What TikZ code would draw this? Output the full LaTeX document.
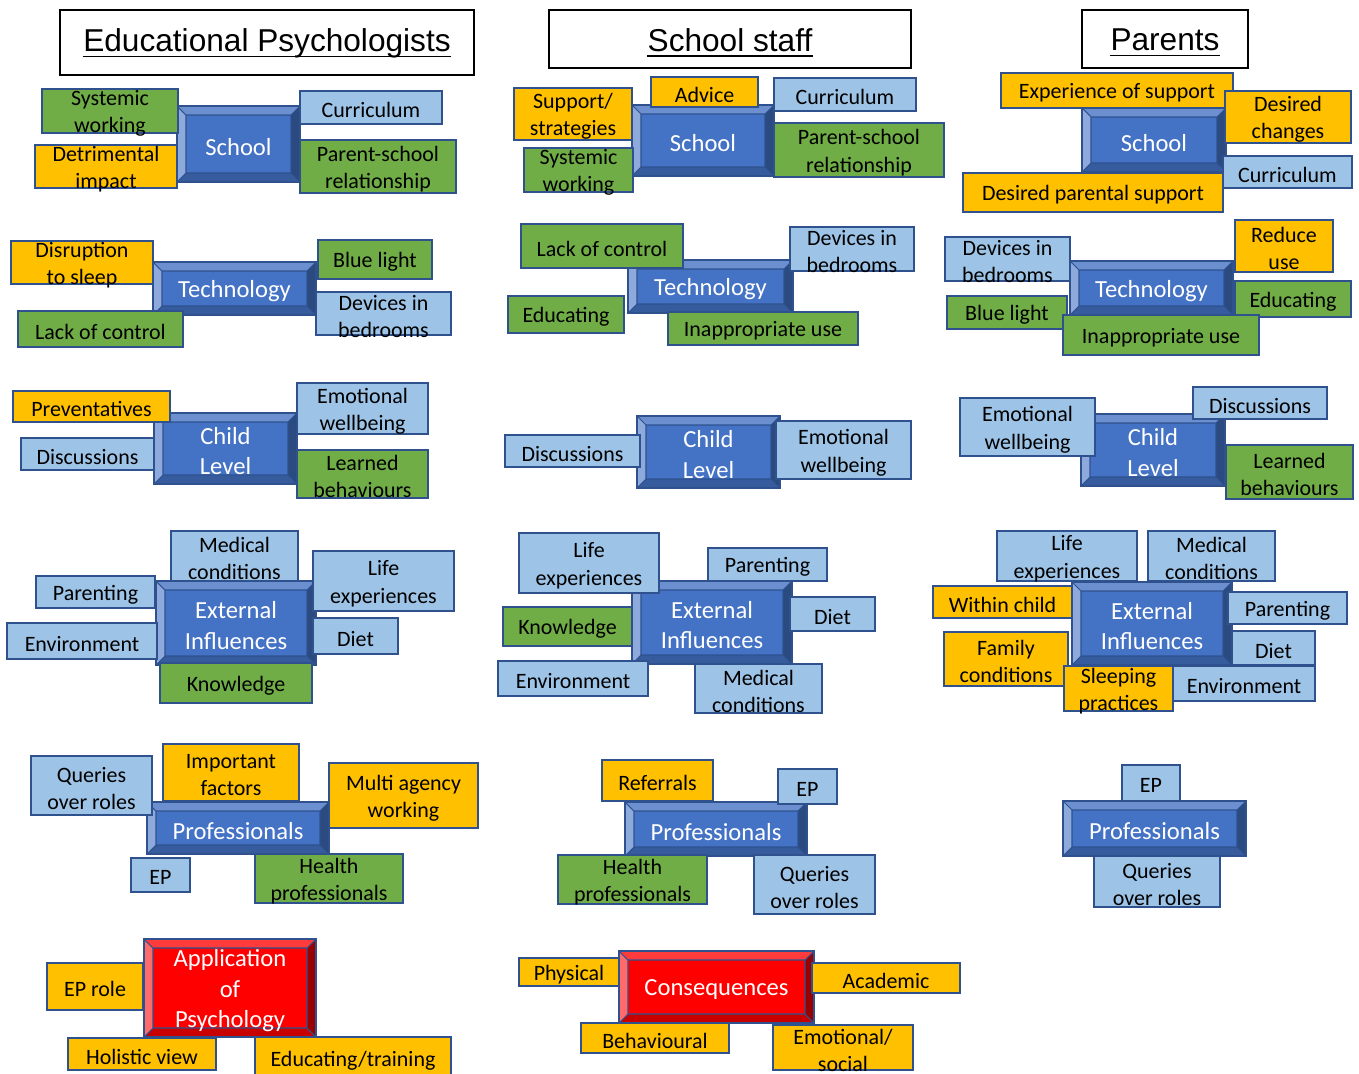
\documentclass[tikz,border=0pt]{standalone}
\usepackage{fontspec}
\setmainfont{Carlito}
\newfontfamily\headfont{Liberation Sans}
\usepackage{tikz}

\definecolor{paleblue}{HTML}{9DC3E6}
\definecolor{leafgreen}{HTML}{70AD47}
\definecolor{amber}{HTML}{FFC000}
\definecolor{edgeblue}{HTML}{2F528F}
\definecolor{blueface}{HTML}{4472C4}
\definecolor{bluetop}{HTML}{6C8FD0}
\definecolor{blueleft}{HTML}{8EA9DB}
\definecolor{blueright}{HTML}{2B4A80}
\definecolor{bluebottom}{HTML}{365C9E}
\definecolor{redface}{HTML}{FF0000}
\definecolor{redtop}{HTML}{FF3B3B}
\definecolor{redleft}{HTML}{FF6B6B}
\definecolor{redright}{HTML}{990000}
\definecolor{redbottom}{HTML}{C80000}

\tikzset{
  leafline/.style={draw=edgeblue, line width=0.8pt},
  hubline/.style={draw=edgeblue, line width=0.6pt},
  titleline/.style={draw=black, line width=0.6pt},
  titlerule/.style={draw=black, line width=1.1pt},
  leaftext/.style={font=\fontsize{12.5}{15.5}\selectfont, align=center, inner sep=0pt, yshift=-1.5pt},
  hubtext/.style={font=\fontsize{14}{17.5}\selectfont, text=white, align=center, inner sep=0pt, yshift=-1.5pt},
  titletext/.style={font=\headfont\fontsize{18}{22}\selectfont, inner sep=0pt, yshift=-0.5pt}
}

\def\leaf[#1](#2)(#3,#4)(#5,#6)#7{%
  \draw[leafline, fill=#1] (#3,#4) rectangle (#5,#6);
  \node[leaftext] (#2) at ({(#3+#5)/2},{(#4+#6)/2}) {#7};}

\def\hub[#1](#2)(#3,#4)(#5,#6)#7{%
  \fill[#1top] (#3,#4) -- (#5,#4) -- ({#5-9},{#4+9}) -- ({#3+9},{#4+9}) -- cycle;
  \fill[#1left] (#3,#4) -- ({#3+9},{#4+9}) -- ({#3+9},{#6-9}) -- (#3,#6) -- cycle;
  \fill[#1right] (#5,#4) -- (#5,#6) -- ({#5-9},{#6-9}) -- ({#5-9},{#4+9}) -- cycle;
  \fill[#1bottom] (#3,#6) -- (#5,#6) -- ({#5-9},{#6-9}) -- ({#3+9},{#6-9}) -- cycle;
  \fill[#1face] ({#3+9},{#4+9}) rectangle ({#5-9},{#6-9});
  \draw[hubline] ({#3+9},{#4+9}) rectangle ({#5-9},{#6-9})
    (#3,#4) -- ({#3+9},{#4+9}) (#5,#4) -- ({#5-9},{#4+9})
    (#3,#6) -- ({#3+9},{#6-9}) (#5,#6) -- ({#5-9},{#6-9});
  \draw[leafline] (#3,#4) rectangle (#5,#6);
  \node[hubtext] (#2) at ({(#3+#5)/2},{(#4+#6)/2}) {#7};}

\def\heading(#1)(#2,#3)(#4,#5)#6{%
  \draw[titleline] (#2,#3) rectangle (#4,#5);
  \node[titletext] (#1) at ({(#2+#4)/2},{(#3+#5)/2}) {#6};
  \draw[titlerule] ([yshift=-2.8pt]#1.base west) -- ([yshift=-2.8pt]#1.base east);}

\begin{document}
\begin{tikzpicture}[x=0.02cm, y=-0.02cm]
			\useasboundingbox (0,0) rectangle (1359,1073);
			%%%%% EDUCATIONAL PSYCHOLOGISTS %%%%%
			\heading(epTitle)(60,10)(474,75){Educational Psychologists}
			
			\hub[blue](epSchool)(177,106)(300,182){School}
			\leaf[leafgreen](epSystemic)(42,89)(178,133){Systemic\\working}
			\leaf[amber](epDetriment)(35,145)(177,188){Detrimental\\impact}
			\leaf[paleblue](epCurric)(300,91)(442,124){Curriculum}
			\leaf[leafgreen](epRelation)(300,140)(456,193){Parent-school\\relationship}
			
			\hub[blue](epTech)(153,262)(316,315){Technology}
			\leaf[amber](epSleep)(11,241)(153,284){Disruption\\to sleep}
			\leaf[leafgreen](epControl)(18,311)(183,347){Lack of control}
			\leaf[leafgreen](epBlue)(318,240)(432,279){Blue light}
			\leaf[paleblue](epDevices)(316,292)(451,335){Devices in\\bedrooms}
			
			\hub[blue](epChild)(154,413)(297,484){Child\\Level}
			\leaf[amber](epPrevent)(13,391)(170,422){Preventatives}
			\leaf[paleblue](epDiscuss)(21,438)(154,470){Discussions}
			\leaf[paleblue](epEmotion)(297,383)(428,434){Emotional\\wellbeing}
			\leaf[leafgreen](epLearned)(297,450)(428,498){Learned\\behaviours}
			
			\hub[blue](epExternal)(156,581)(316,665){External\\Influences}
			\leaf[paleblue](epMedical)(171,531)(298,581){Medical\\conditions}
			\leaf[paleblue](epParenting)(36,576)(155,608){Parenting}
			\leaf[paleblue](epEnviron)(7,623)(157,659){Environment}
			\leaf[paleblue](epLife)(313,551)(454,611){Life\\experiences}
			\leaf[paleblue](epDiet)(313,618)(398,654){Diet}
			\leaf[leafgreen](epKnow)(160,663)(312,703){Knowledge}
			
			\hub[blue](epProf)(147,802)(329,854){Professionals}
			\leaf[paleblue](epQueries)(31,756)(152,815){Queries\\over roles}
			\leaf[amber](epFactors)(163,744)(299,801){Important\\factors}
			\leaf[amber](epAgency)(329,763)(478,828){Multi agency\\working}
			\leaf[paleblue](epEP)(131,858)(190,892){EP}
			\leaf[leafgreen](epHealth)(255,854)(403,903){Health\\professionals}
			
			\hub[red](epApply)(144,939)(316,1037){Application\\of\\Psychology}
			\leaf[amber](epRole)(47,963)(143,1010){EP role}
			\leaf[amber](epHolistic)(68,1038)(216,1070){Holistic view}
			\leaf[amber](epTraining)(255,1037)(451,1080){Educating/training}
			
			%%%%% SCHOOL STAFF %%%%%
			\heading(staffTitle)(549,10)(911,68){School staff}
			
			\hub[blue](stSchool)(632,105)(774,176){School}
			\leaf[amber](stSupport)(514,88)(632,140){Support/\\strategies}
			\leaf[amber](stAdvice)(651,77)(758,107){Advice}
			\leaf[paleblue](stCurric)(774,78)(916,111){Curriculum}
			\leaf[leafgreen](stSystemic)(524,148)(633,192){Systemic\\working}
			\leaf[leafgreen](stRelation)(774,123)(944,177){Parent-school\\relationship}
			
			\hub[blue](stTech)(628,260)(793,313){Technology}
			\leaf[leafgreen](stControl)(521,224)(683,268){Lack of control}
			\leaf[paleblue](stDevices)(790,227)(914,271){Devices in\\bedrooms}
			\leaf[leafgreen](stEducate)(508,296)(624,333){Educating}
			\leaf[leafgreen](stMisuse)(668,312)(858,345){Inappropriate use}
			
			\hub[blue](stChild)(637,416)(780,488){Child\\Level}
			\leaf[paleblue](stDiscuss)(505,435)(640,467){Discussions}
			\leaf[paleblue](stEmotion)(776,421)(911,479){Emotional\\wellbeing}
			
			\hub[blue](stExternal)(632,581)(792,664){External\\Influences}
			\leaf[paleblue](stLife)(519,533)(659,593){Life\\experiences}
			\leaf[paleblue](stParenting)(708,548)(827,581){Parenting}
			\leaf[leafgreen](stKnow)(503,607)(632,646){Knowledge}
			\leaf[paleblue](stDiet)(790,597)(875,631){Diet}
			\leaf[paleblue](stEnviron)(498,661)(648,696){Environment}
			\leaf[paleblue](stMedical)(695,664)(822,713){Medical\\conditions}
			
			\hub[blue](stProf)(625,802)(807,856){Professionals}
			\leaf[amber](stReferral)(602,760)(713,801){Referrals}
			\leaf[paleblue](stEP)(778,769)(837,804){EP}
			\leaf[leafgreen](stHealth)(558,855)(707,904){Health\\professionals}
			\leaf[paleblue](stQueries)(754,855)(875,914){Queries\\over roles}
			
			\hub[red](stConseq)(619,951)(814,1023){Consequences}
			\leaf[amber](stPhysical)(519,958)(619,986){Physical}
			\leaf[amber](stAcademic)(812,963)(960,993){Academic}
			\leaf[amber](stBehaviour)(581,1023)(729,1053){Behavioural}
			\leaf[amber](stSocial)(773,1025)(913,1070){Emotional/\\social}
			
			%%%%% PARENTS %%%%%
			\heading(parTitle)(1082,10)(1248,68){Parents}
			
			\hub[blue](parSchool)(1082,108)(1226,172){School}
			\leaf[amber](parExperience)(1001,73)(1233,108){Experience of support}
			\leaf[amber](parChanges)(1225,91)(1351,143){Desired\\changes}
			\leaf[paleblue](parCurric)(1223,156)(1352,188){Curriculum}
			\leaf[amber](parSupport)(963,173)(1223,212){Desired parental support}
			
			\hub[blue](parTech)(1070,261)(1233,315){Technology}
			\leaf[amber](parReduce)(1235,220)(1333,272){Reduce\\use}
			\leaf[paleblue](parDevices)(945,237)(1070,281){Devices in\\bedrooms}
			\leaf[leafgreen](parEducate)(1235,281)(1351,317){Educating}
			\leaf[leafgreen](parBlue)(947,296)(1067,329){Blue light}
			\leaf[leafgreen](parMisuse)(1063,315)(1259,355){Inappropriate use}
			
			\hub[blue](parChild)(1081,414)(1225,486){Child\\Level}
			\leaf[paleblue](parEmotion)(960,398)(1095,456){Emotional\\wellbeing}
			\leaf[paleblue](parDiscuss)(1193,387)(1327,419){Discussions}
			\leaf[leafgreen](parLearned)(1226,445)(1353,499){Learned\\behaviours}
			
			\hub[blue](parExternal)(1072,582)(1232,665){External\\Influences}
			\leaf[paleblue](parLife)(997,531)(1137,581){Life\\experiences}
			\leaf[paleblue](parMedical)(1148,531)(1275,581){Medical\\conditions}
			\leaf[amber](parWithin)(933,586)(1072,618){Within child}
			\leaf[paleblue](parParenting)(1228,592)(1347,624){Parenting}
			\leaf[amber](parFamily)(944,632)(1068,686){Family\\conditions}
			\leaf[paleblue](parDiet)(1232,631)(1315,665){Diet}
			\leaf[paleblue](parEnviron)(1173,666)(1315,701){Environment}
			\leaf[amber](parSleeping)(1064,666)(1173,711){Sleeping\\practices}
			
			\hub[blue](parProf)(1063,801)(1246,856){Professionals}
			\leaf[paleblue](parEP)(1122,765)(1180,801){EP}
			\leaf[paleblue](parQueries)(1094,856)(1220,907){Queries\\over roles}
			%%%%% END %%%%%
\end{tikzpicture}
\end{document}
